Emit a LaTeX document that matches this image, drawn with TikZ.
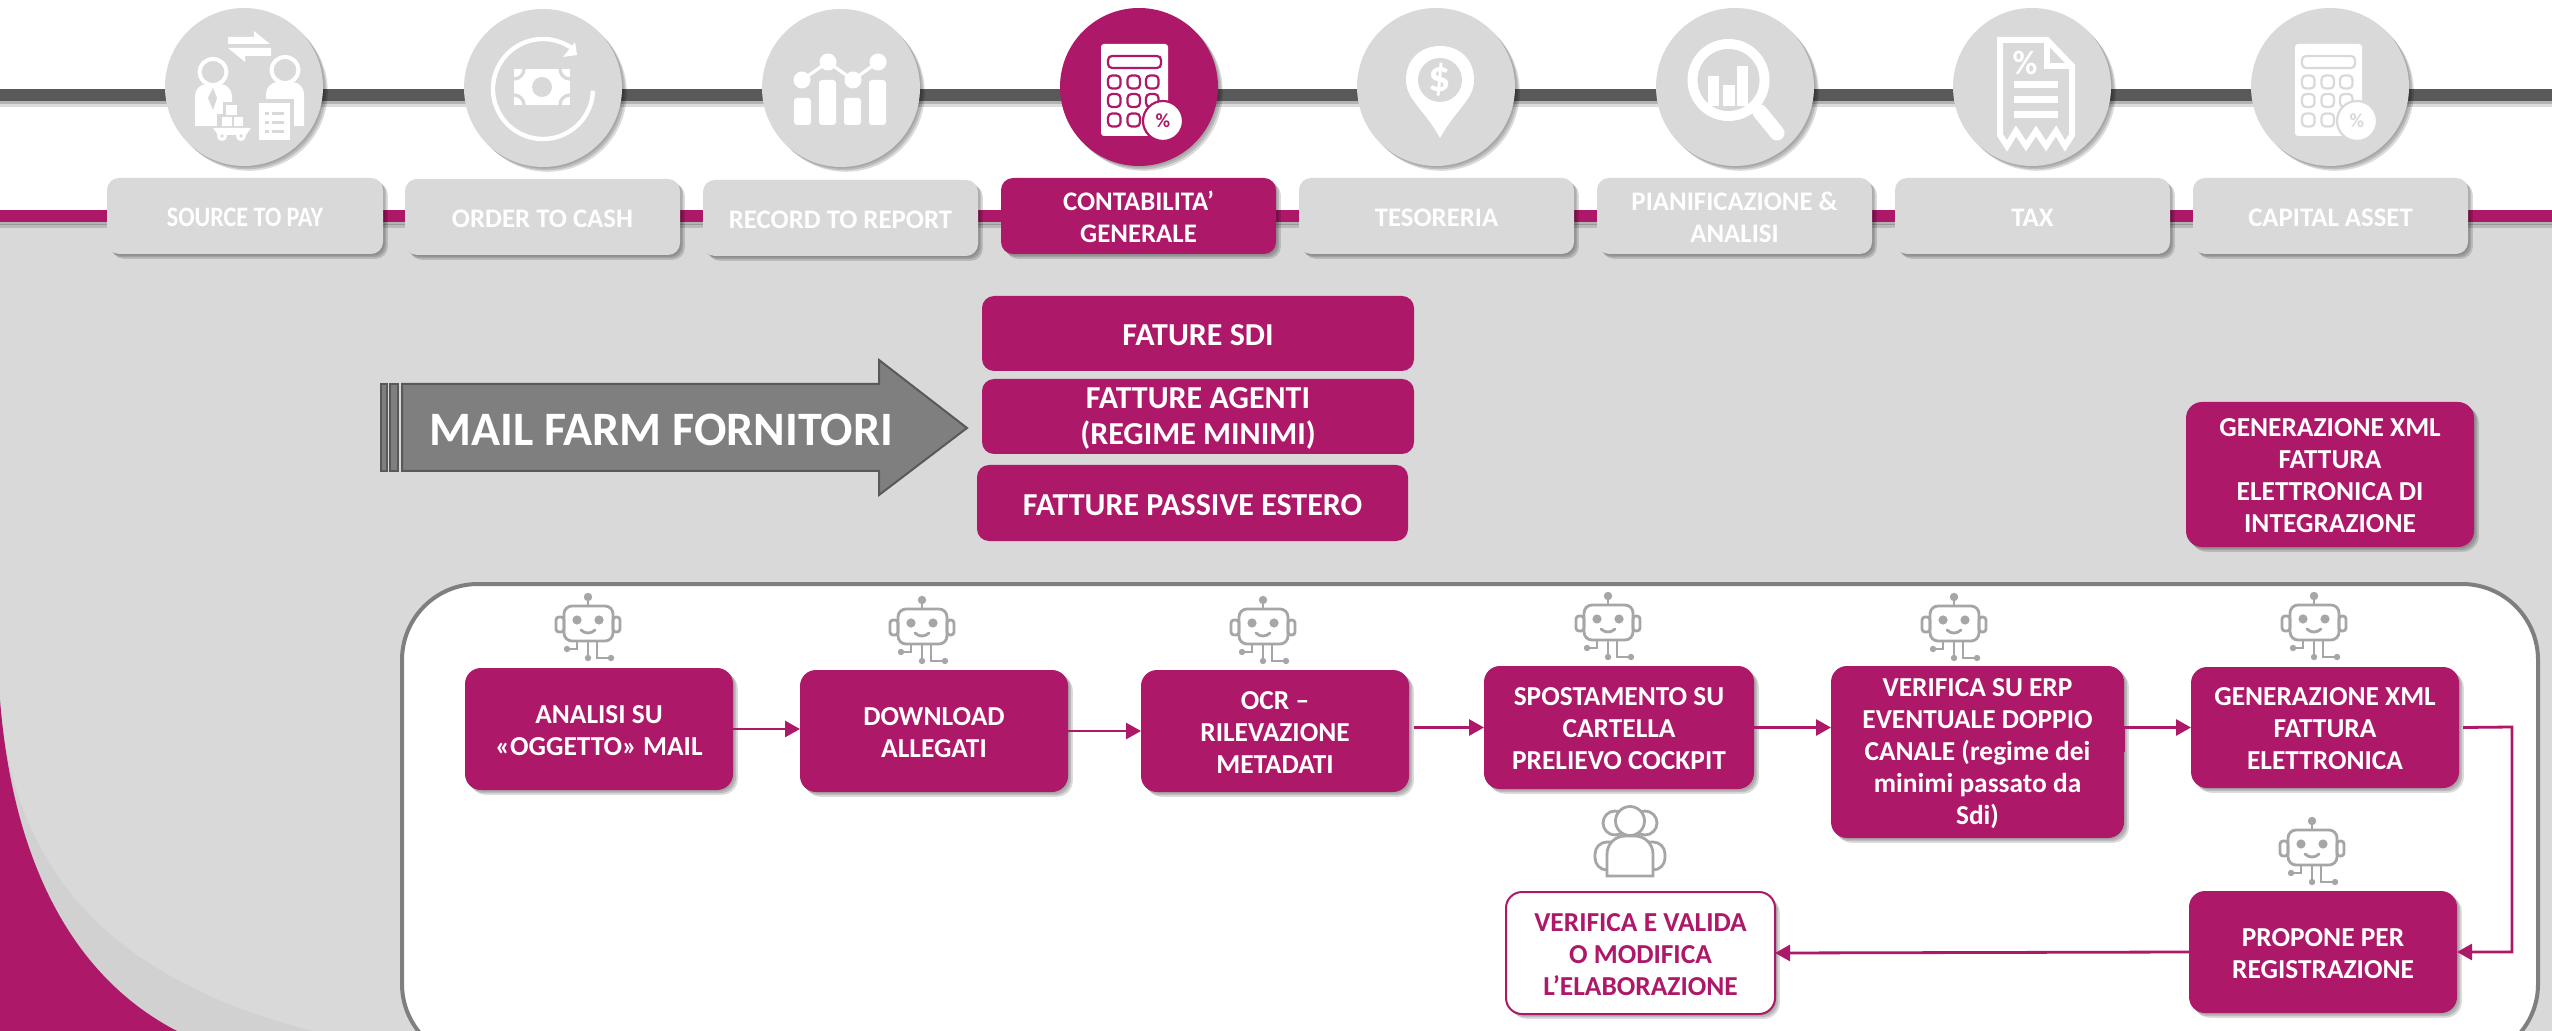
\documentclass[tikz,border=0pt]{standalone}
\usepackage{fontspec}
\setmainfont{Carlito}
\usetikzlibrary{arrows.meta,shadows,calc}
\definecolor{mag}{HTML}{AD1868}
\definecolor{lgrey}{HTML}{D9D9D9}
\definecolor{dgrey}{HTML}{595959}
\definecolor{mgrey}{HTML}{7F7F7F}
\definecolor{igrey}{HTML}{A6A6A6}
\definecolor{bandgrey}{HTML}{D1D1D1}
\tikzset{
  softshadow/.style={
    general shadow={shadow xshift=0.8pt,shadow yshift=-0.8pt,fill=black,opacity=.10},
    general shadow={shadow xshift=1.6pt,shadow yshift=-1.6pt,fill=black,opacity=.14},
    general shadow={shadow xshift=2.4pt,shadow yshift=-2.4pt,fill=black,opacity=.14}},
  linesh/.style={
    general shadow={shadow xshift=0pt,shadow yshift=-1.4pt,fill=black,opacity=.18},
    general shadow={shadow xshift=0pt,shadow yshift=-2.8pt,fill=black,opacity=.14}},
  base/.style={rectangle,inner sep=0pt,outer sep=0pt,align=center,text=white,
    font=\fontsize{13.7}{16}\selectfont\bfseries},
  tabgrey/.style={base,fill=lgrey,rounded corners=6pt,softshadow,font=\fontsize{13.4}{16}\selectfont\bfseries},
  tabmag/.style={base,fill=mag,rounded corners=6pt,softshadow,font=\fontsize{13.4}{16}\selectfont\bfseries},
  plain/.style={base,fill=mag,rounded corners=6pt,font=\fontsize{16}{18}\selectfont\bfseries},
  proc/.style={base,fill=mag,rounded corners=8pt,softshadow},
  procw/.style={base,fill=white,draw=mag,line width=1pt,text=mag,rounded corners=8pt,softshadow},
  disc/.style={circle,inner sep=0pt,outer sep=0pt,minimum size=79pt,softshadow},
  link/.style={draw=mag,line width=1.4pt,-{Triangle[length=7.5pt,width=8pt]}},
  ico/.style={draw=igrey,line width=1.4pt},
}
\newcommand{\bx}[7]{\node[#6,minimum width={(#4-#2)*0.5pt},minimum height={(#5-#3)*0.5pt}] (#1) at ({(#2+#4)/2},{(#3+#5)/2}) {\rule{0pt}{0.76em}#7};}
\newcommand{\robotic}[2]{%
 \begin{scope}[shift={(#1,#2)}]
  \draw[ico,rounded corners=1.5pt] (-32,-3) rectangle (-24,12);
  \draw[ico,rounded corners=1.5pt] (25,-3) rectangle (32,12);
  \draw[ico,rounded corners=4pt] (-24,-14) rectangle (25,21);
  \draw[ico] (0,-14) -- (0,-22);
  \fill[igrey] (0,-23) circle[radius=4.2];
  \fill[igrey] (-11,0) circle[radius=4.6];
  \fill[igrey] (11,0) circle[radius=4.6];
  \draw[ico,line cap=round] (-7,10) .. controls (-3,14) and (3,14) .. (7,10);
  \draw[ico] (-11,21) -- (-11,29) -- (-21,29);
  \fill[igrey] (-21,29) circle[radius=3.2];
  \draw[ico] (0,21) -- (0,38);
  \fill[igrey] (0,38) circle[radius=3.2];
  \draw[ico] (9,21) -- (9,38) -- (23,38);
  \fill[igrey] (23,38) circle[radius=3.2];
 \end{scope}}
% calculator icon: centre x,y ; colour of its marks ; node name
\newcommand{\calcicon}[4]{%
 \begin{scope}[shift={(#1,#2)}]
  \fill[white,rounded corners=1.5pt] (-38,-43) rectangle (29,49);
  \draw[#3,line width=1.1pt,rounded corners=2pt] (-31,-31) rectangle (22,-19);
  \foreach \yy in {-11.5,7,26.5} \foreach \xx in {-31,-11.5,7}
    \draw[#3,line width=1.1pt,rounded corners=2pt] (\xx,\yy) rectangle ++(12.5,13);
  \fill[white,draw=#3,line width=1.1pt] (24,34) circle[radius=20];
  \node[inner sep=0pt,text=#3,font=\fontsize{10}{10}\selectfont\bfseries] (#4) at (24,34) {\%};
 \end{scope}}
\begin{document}
\begin{tikzpicture}[x=0.5pt,y=-0.5pt]
\useasboundingbox (0,0) rectangle (2552,1031);
\clip (0,0) rectangle (2552,1031);
\fill[white] (0,0) rectangle (2552,1031);
\fill[lgrey] (0,224) rectangle (2552,1031);
% corner swoosh
\fill[bandgrey] (0,700) .. controls (10,830) and (70,970) .. (313,1031) -- (0,1031) -- cycle;
\fill[mag] (0,700) .. controls (8,800) and (40,960) .. (177,1031) -- (0,1031) -- cycle;
% ribbons
\fill[dgrey,linesh] (0,89) rectangle (2552,101);
\fill[mag,linesh] (0,210) rectangle (2552,222);
% discs
\node[disc,fill=lgrey] (c1) at (244,87) {};
\node[disc,fill=lgrey] (c2) at (543,88) {};
\node[disc,fill=lgrey] (c3) at (841,88) {};
\node[disc,fill=mag] (c4) at (1139,87) {};
\node[disc,fill=lgrey] (c5) at (1436,87) {};
\node[disc,fill=lgrey] (c6) at (1735,87) {};
\node[disc,fill=lgrey] (c7) at (2032,87) {};
\node[disc,fill=lgrey] (c8) at (2330,87) {};
% icon 1
\fill[white] (228,37) -- (254,37) -- (254,31) -- (270,44) -- (228,44) -- cycle;
\fill[white] (271,48) -- (228,48) -- (245,62) -- (245,56) -- (271,56) -- cycle;
\draw[white,line width=2pt] (213,72) ellipse [x radius=13.5,y radius=13];
\draw[white,line width=2pt] (285,70) ellipse [x radius=13.5,y radius=13];
\fill[white] (195,126) [rounded corners=6pt] -- (195,84) -- (232,84) [sharp corners] -- (232,126) -- cycle;
\fill[lgrey] (213,88) -- (217,98) -- (213,110) -- (208,98) -- cycle;
\fill[white] (266,126) [rounded corners=6pt] -- (266,82) -- (304,82) [sharp corners] -- (304,126) -- cycle;
\fill[lgrey] (223,102) rectangle (241,117);
\fill[lgrey] (217,114) rectangle (247,128);
\fill[lgrey] (255,99) rectangle (294,144);
\fill[white] (259,103) rectangle (290,140);
\foreach \yy in {112,121,130} {\fill[lgrey] (265,\yy) rectangle (269,\yy+3); \fill[lgrey] (272,\yy) rectangle (284,\yy+3);}
\fill[white] (226,105) rectangle (237,115);
\fill[white] (222,117) rectangle (232,126);
\fill[white] (234,117) rectangle (243,126);
\fill[white] (213,128) -- (251,128) -- (246,135) -- (218,135) -- cycle;
\fill[white] (222,136) circle[radius=5];
\fill[white] (241,136) circle[radius=5];
\fill[lgrey] (222,136) circle[radius=1.8];
\fill[lgrey] (241,136) circle[radius=1.8];
% icon 2
\draw[white,line width=2.2pt,domain=2:305,samples=80,smooth] plot ({543+50*cos(\x)},{89+50*sin(\x)});
\fill[white] (563,57) -- (575,42) -- (577,55) -- cycle;
\fill[white] (514,69) rectangle (570,105);
\fill[lgrey] (542,87) circle[radius=10];
\begin{scope}
  \clip (514,69) rectangle (570,105);
  \foreach \xx/\yy in {514/69,570/69,514/105,570/105} \draw[lgrey,line width=1.6pt] (\xx,\yy) circle[radius=10];
\end{scope}
% icon 3
\foreach \xa/\yy in {794/98,819/80,844/98,869/80} \fill[white,rounded corners=1.5pt] (\xa,\yy) rectangle (\xa+17,125);
\draw[white,line width=1.6pt] (802,80) -- (828,62) -- (853,80) -- (878,62);
\foreach \xx/\yy in {802/80,828/62,853/80,878/62} \fill[white] (\xx,\yy) circle[radius=8.5];
% icon 4 and 8
\calcicon{1139}{87}{mag}{pa}
\calcicon{2333}{87}{lgrey}{pb}
% icon 5
\fill[white] (1440,138) .. controls (1425,110) and (1406,100) .. (1406,80) .. controls (1406,58) and (1422,46) .. (1440,46) .. controls (1458,46) and (1474,58) .. (1474,80) .. controls (1474,100) and (1455,110) .. (1440,138) -- cycle;
\fill[lgrey] (1440,80) circle[radius=22];
\node[inner sep=0pt,text=white,font=\fontsize{22}{22}\selectfont\bfseries] (dollar) at (1440,80) {\$};
% icon 6
\draw[white,line width=7.5pt,line cap=round] (1760,112) -- (1777,133);
\fill[white] (1728.5,80) circle[radius=41];
\fill[lgrey] (1728.5,80) circle[radius=31];
\fill[white] (1708,76) rectangle (1719,106);
\fill[white] (1723,85) rectangle (1735,106);
\fill[white] (1737,66) rectangle (1748,106);
% icon 7
\draw[white,line width=3pt,line join=miter] (2000,40) -- (2047,40) -- (2072,66) -- (2072,135) -- (2065,146) -- (2056,131) -- (2046,146) -- (2036,131) -- (2026,146) -- (2016,131) -- (2007,146) -- (2000,135) -- cycle;
\draw[white,line width=3pt] (2047,40) -- (2047,66) -- (2072,66);
\node[inner sep=0pt,text=white,font=\fontsize{17}{17}\selectfont\bfseries] (pct) at (2025,63) {\%};
\foreach \yy in {81,96,111} \fill[white] (2014,\yy) rectangle (2058,\yy+7);
% tabs
\bx{t1}{107}{178}{383}{254}{tabgrey}{\scalebox{0.9}[1.05]{SOURCE TO PAY}}
\bx{t2}{405}{179}{680}{255}{tabgrey}{ORDER TO CASH}
\bx{t3}{703}{180}{978}{256}{tabgrey}{RECORD TO REPORT}
\bx{t4}{1001}{178}{1276}{254}{tabmag}{CONTABILITA’\\GENERALE}
\bx{t5}{1299}{178}{1574}{254}{tabgrey}{TESORERIA}
\bx{t6}{1597}{178}{1872}{254}{tabgrey}{PIANIFICAZIONE \&\\ANALISI}
\bx{t7}{1895}{178}{2170}{254}{tabgrey}{TAX}
\bx{t8}{2193}{178}{2468}{254}{tabgrey}{CAPITAL ASSET}
% big arrow
\fill[mgrey,draw=dgrey,line width=1pt] (381,384) rectangle (387,471);
\fill[mgrey,draw=dgrey,line width=1pt] (390,384) rectangle (398,471);
\fill[mgrey,draw=dgrey,line width=1pt] (402,384) -- (879,384) -- (879,360) -- (967,428) -- (879,495) -- (879,471) -- (402,471) -- cycle;
\node[inner sep=0pt,text=white,font=\fontsize{24}{26}\selectfont\bfseries] (mail) at (661,430) {MAIL FARM FORNITORI};
% upper boxes
\bx{f1}{982}{296}{1414}{371}{plain}{FATURE SDI}
\bx{f2}{982}{379}{1414}{454}{plain}{FATTURE AGENTI\\(REGIME MINIMI)}
\bx{f3}{977}{465}{1408}{541}{plain}{FATTURE PASSIVE ESTERO}
\bx{gx}{2186}{402}{2474}{547}{proc}{GENERAZIONE XML\\FATTURA\\ELETTRONICA DI\\INTEGRAZIONE}
% panel
\draw[mgrey,fill=white,line width=2pt,rounded corners=38pt] (402,584) rectangle (2538,1060);
% process boxes
\bx{p1}{465}{668}{733}{790}{proc}{ANALISI SU\\«OGGETTO» MAIL}
\bx{p2}{800}{670}{1068}{792}{proc}{DOWNLOAD\\ALLEGATI}
\bx{p3}{1141}{670}{1409}{792}{proc}{OCR –\\RILEVAZIONE\\METADATI}
\bx{p4}{1484}{666}{1754}{789}{proc}{SPOSTAMENTO SU\\CARTELLA\\PRELIEVO COCKPIT}
\bx{p5}{1831}{666}{2124}{838}{proc}{VERIFICA SU ERP\\EVENTUALE DOPPIO\\CANALE (regime dei\\minimi passato da\\Sdi)}
\bx{p6}{2191}{667}{2459}{788}{proc}{GENERAZIONE XML\\FATTURA\\ELETTRONICA}
\bx{p7}{2189}{891}{2457}{1013}{proc}{PROPONE PER\\REGISTRAZIONE}
\bx{p8}{1506}{892}{1775}{1014}{procw}{VERIFICA E VALIDA\\O MODIFICA\\L’ELABORAZIONE}
% connectors
\draw[link] (p1.east) -- (p1.east -| p2.west);
\draw[link] (p2.east) -- (p2.east -| p3.west);
\draw[link] (p4.west -| p3.east) ++(5,0) -- (p4.west);
\draw[link] (p4.east) -- (p4.east -| p5.west);
\coordinate (bend1) at (2512,727);
\coordinate (bend2) at (2512,952);
\draw[link] (p5.east) -- (p5.east |- p6.west) -- (p6.west);
\draw[link,rounded corners=0pt] ($(p6.east)+(4,0)$) -- (bend1) -- (bend2) -- (p7.east);
\draw[link] (p7.west) -- (p8.east);
% robots
\robotic{588}{620}
\robotic{922}{623}
\robotic{1263}{623}
\robotic{1608}{619}
\robotic{1954}{620}
\robotic{2314}{619}
\robotic{2312}{844}
% people icon
\draw[ico,rounded corners=6pt] (1607,870) -- (1595,870) -- (1595,842) -- (1665,842) -- (1665,870) -- (1653,870);
\draw[ico] (1615,823) circle[radius=12];
\draw[ico] (1645,823) circle[radius=12];
\draw[ico,fill=white] (1630,821) circle[radius=14.5];
\draw[ico,fill=white] (1607,876) [rounded corners=9pt] -- (1607,836) -- (1653,836) [sharp corners] -- (1653,876) -- cycle;
\end{tikzpicture}
\end{document}
